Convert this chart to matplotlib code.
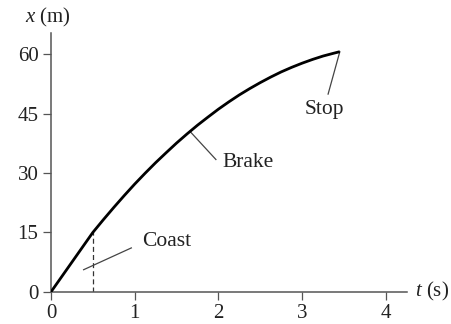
import matplotlib.pyplot as plt

# position vs time
t = [0, 0.5, 0.625, 0.75, 0.875, 1.0, 1.125, 1.25, 1.375, 1.5, 1.625, 1.75,
     1.875, 2.0, 2.125, 2.25, 2.375, 2.5, 2.625, 2.75, 2.875, 3.0, 3.125,
     3.25, 3.375, 3.45]
x = [0, 15, 18.2, 21.3, 24.3, 27.2, 29.95, 32.6, 35.1, 37.55, 39.85, 42.05,
     44.1, 46.1, 47.95, 49.7, 51.3, 52.8, 54.2, 55.5, 56.65, 57.7, 58.65,
     59.5, 60.2, 60.6]

coast_t = 0.5
coast_x = 15

xticks = [0, 1, 2, 3, 4]
yticks = [0, 15, 30, 45, 60]

# label, leader line start, leader line end, text position, alignment
notes = [
    ("Coast", (0.39, 5.6), (0.96, 11.1), (1.09, 12.7), "left"),
    ("Brake", (1.66, 40.5), (1.97, 33.4), (2.05, 32.6), "left"),
    ("Stop", (3.45, 60.6), (3.31, 49.9), (3.26, 46.0), "center"),
]

plt.rcParams['font.family'] = ['Liberation Serif', 'DejaVu Serif']
plt.rcParams['mathtext.fontset'] = 'custom'
plt.rcParams['mathtext.it'] = 'Liberation Serif:italic'
plt.rcParams['mathtext.rm'] = 'Liberation Serif'

fig = plt.figure(figsize=(4.51, 3.24), dpi=100)
ax = fig.add_axes([0.113, 0.099, 0.789, 0.799])

ax.plot(t, x, color='black', lw=2.0, solid_capstyle='butt', solid_joinstyle='round', zorder=3)
ax.plot([coast_t, coast_t], [0, coast_x], color='#333333', lw=0.9, ls=(0, (4, 2.5)))

for label, p0, p1, pt, ha in notes:
    ax.plot([p0[0], p1[0]], [p0[1], p1[1]], color='#444444', lw=0.9)
    ax.text(pt[0], pt[1], label, fontsize=15.5, ha=ha, va='center', color='#222222')

ax.set_xlim(0, 4.25)
ax.set_ylim(0, 65.3)
ax.set_xticks(xticks)
ax.set_yticks(yticks)
ax.tick_params(labelsize=15, length=6, width=0.9, color='#555555', labelcolor='#222222', pad=3)
for side in ['top', 'right']:
    ax.spines[side].set_visible(False)
for side in ['left', 'bottom']:
    ax.spines[side].set_color('#555555')
    ax.spines[side].set_linewidth(1.1)

fig.text(0.055, 0.945, r'$x$ (m)', fontsize=15, ha='left', va='center', color='#222222')
fig.text(0.92, 0.099, r'$t$ (s)', fontsize=15, ha='left', va='center', color='#222222')

fig.savefig('out.png', dpi=100)
